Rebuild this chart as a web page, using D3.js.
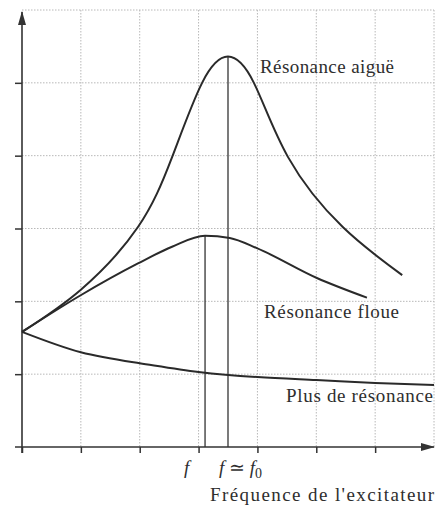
<!DOCTYPE html>
<html>
<head>
<meta charset="utf-8">
<script src="https://cdn.jsdelivr.net/npm/d3@7"></script>
<style>
  body { margin: 0; background: #fff; }
  text { font-family: 'Liberation Serif', 'Times New Roman', serif; fill: #2e2e2e; }
</style>
</head>
<body>
<div id="chart"></div>
<script>
// axes / grille
const freqTicks = [0, 1, 2, 3, 4, 5, 6]
const ampTicks = [1, 2, 3, 4, 5]
const gridFreq = [1, 2, 3, 4, 5, 6, 7]
const gridAmp = [1, 2, 3, 4, 5, 6]

// résonance aiguë
const sharpFreq = [0, 1.0, 1.97, 2.55, 3.06, 3.5, 3.94, 4.52, 5.45, 6.46]
const sharpAmp = [1.58, 2.16, 3.02, 3.98, 5.0, 5.36, 5.0, 3.98, 3.02, 2.36]

// résonance floue
const broadFreq = [0, 0.99, 1.97, 2.55, 3.11, 3.53, 3.99, 5.01, 5.86]
const broadAmp = [1.58, 2.08, 2.52, 2.75, 2.90, 2.87, 2.73, 2.32, 2.05]

// plus de résonance
const flatFreq = [0, 1, 2, 3, 4, 5, 6, 7]
const flatAmp = [1.58, 1.30, 1.15, 1.03, 0.96, 0.92, 0.88, 0.85]

const curveNames = ['Résonance aiguë', 'Résonance floue', 'Plus de résonance']
const xTitle = "Fréquence de l'excitateur"

const width = 442, height = 509
const padL = 22, padR = 434, padT = 10, padB = 447

const x = d3.scaleLinear().domain([0, 7]).range([padL, padR])
const y = d3.scaleLinear().domain([0, 6]).range([padB, padT])

const svg = d3.select('#chart').append('svg')
  .attr('width', width)
  .attr('height', height)

svg.append('defs').append('marker')
  .attr('id', 'arrow')
  .attr('viewBox', '0 -5 14 10')
  .attr('refX', 13)
  .attr('refY', 0)
  .attr('markerUnits', 'userSpaceOnUse')
  .attr('markerWidth', 14)
  .attr('markerHeight', 10)
  .attr('orient', 'auto')
  .append('path')
  .attr('d', 'M0,-4L14,0L0,4Z')
  .attr('fill', '#333')

// grille pointillée
const grid = svg.append('g')
  .attr('stroke', '#b8b8b8')
  .attr('stroke-width', 1)
  .attr('stroke-dasharray', '1.5,1.5')

grid.selectAll('line.v').data(gridFreq).join('line')
  .attr('class', 'v')
  .attr('x1', d => x(d)).attr('x2', d => x(d))
  .attr('y1', y(6)).attr('y2', y(0))

grid.selectAll('line.h').data(gridAmp).join('line')
  .attr('class', 'h')
  .attr('x1', x(0)).attr('x2', x(7))
  .attr('y1', d => y(d)).attr('y2', d => y(d))

// graduations
const xAxis = svg.append('g')
  .attr('transform', `translate(0,${padB})`)
  .call(d3.axisBottom(x).tickValues(freqTicks).tickSize(6).tickSizeOuter(0).tickFormat(''))
xAxis.select('.domain').remove()
xAxis.selectAll('line').attr('stroke', '#333').attr('stroke-width', 1.5)

const yAxis = svg.append('g')
  .attr('transform', `translate(${padL},0)`)
  .call(d3.axisLeft(y).tickValues(ampTicks).tickSize(7).tickSizeOuter(0).tickFormat(''))
yAxis.select('.domain').remove()
yAxis.selectAll('line').attr('stroke', '#333').attr('stroke-width', 1.5)

// axes avec flèches
svg.append('line')
  .attr('x1', padL - 7).attr('x2', x(7))
  .attr('y1', padB).attr('y2', padB)
  .attr('stroke', '#333').attr('stroke-width', 1.6)
  .attr('marker-end', 'url(#arrow)')

svg.append('line')
  .attr('x1', padL).attr('x2', padL)
  .attr('y1', padB + 6).attr('y2', y(6) + 2)
  .attr('stroke', '#333').attr('stroke-width', 1.6)
  .attr('marker-end', 'url(#arrow)')

// courbes (spline naturelle, sauf la résonance floue : monotone pour garder le max au point lu)
const series = [
  { f: sharpFreq, a: sharpAmp, curve: d3.curveNatural },
  { f: broadFreq, a: broadAmp, curve: d3.curveMonotoneX },
  { f: flatFreq, a: flatAmp, curve: d3.curveNatural }
]

const line = d3.line()
  .x(d => x(d[0]))
  .y(d => y(d[1]))

// traits verticaux aux maxima
series.slice(0, 2).forEach(s => {
  const i = d3.maxIndex(s.a)
  svg.append('line')
    .attr('x1', x(s.f[i])).attr('x2', x(s.f[i]))
    .attr('y1', y(s.a[i])).attr('y2', padB)
    .attr('stroke', '#333').attr('stroke-width', 1.3)
})

svg.selectAll('path.curve').data(series).join('path')
  .attr('class', 'curve')
  .attr('d', s => line.curve(s.curve)(d3.zip(s.f, s.a)))
  .attr('fill', 'none')
  .attr('stroke', '#2a2a2a')
  .attr('stroke-width', 2)

// libellés
const labelPos = [[260, 73, 134], [264, 318, 135], [286, 402, 147]]
svg.selectAll('text.name').data(curveNames).join('text')
  .attr('class', 'name')
  .attr('x', (d, i) => labelPos[i][0])
  .attr('y', (d, i) => labelPos[i][1])
  .attr('textLength', (d, i) => labelPos[i][2])
  .attr('lengthAdjust', 'spacing')
  .attr('font-size', 19)
  .text(d => d)

svg.append('text')
  .attr('x', 210).attr('y', 501)
  .attr('textLength', 224)
  .attr('lengthAdjust', 'spacing')
  .attr('font-size', 19)
  .text(xTitle)

svg.append('text')
  .attr('x', 184).attr('y', 474)
  .attr('font-size', 19)
  .attr('font-style', 'italic')
  .text('f')

const f0 = svg.append('text')
  .attr('x', 219).attr('y', 474)
  .attr('font-size', 19)
f0.append('tspan').attr('font-style', 'italic').text('f')
f0.append('tspan').text(' ≃ ')
f0.append('tspan').attr('font-style', 'italic').text('f')
f0.append('tspan').attr('font-size', 14).attr('dy', 4).text('0')
</script>
</body>
</html>
